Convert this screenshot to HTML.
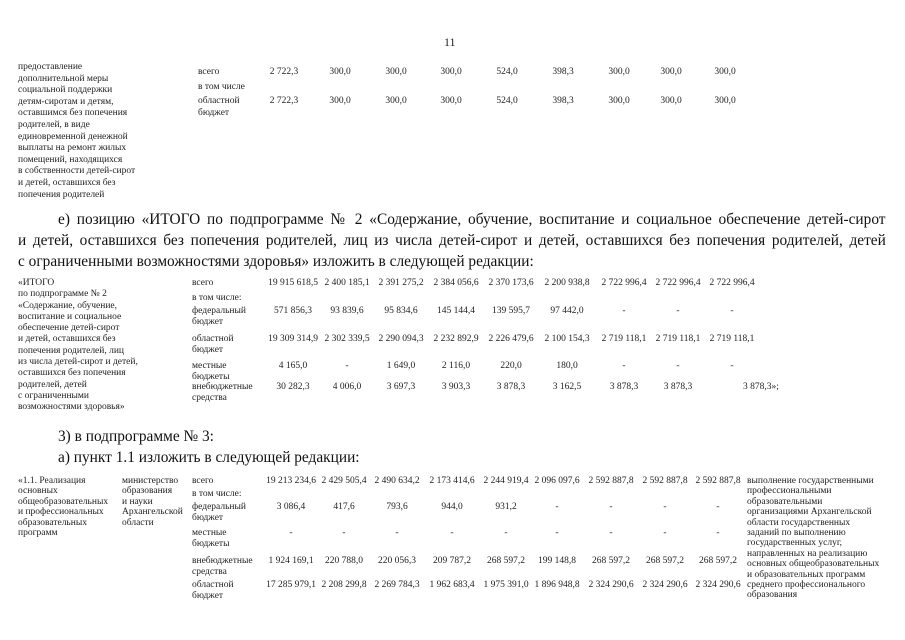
<!DOCTYPE html>
<html><head><meta charset="utf-8"><style>
body{margin:0;background:#fff;}
#p{position:relative;width:905px;height:640px;overflow:hidden;font-family:"Liberation Serif","DejaVu Serif",serif;color:#222;}
.s{position:absolute;font-size:9.5px;line-height:11.5px;white-space:nowrap;}
.c{position:absolute;font-size:9.5px;line-height:11.5px;white-space:nowrap;transform:translateX(-50%);}
.b{position:absolute;font-size:16px;line-height:20px;white-space:nowrap;transform-origin:0 0;transform:scaleX(0.96);color:#111;}
.j{text-align:justify;text-align-last:justify;white-space:normal;}
</style></head><body><div id="p">
<div class="s" style="left:444px;top:37px;font-size:12px">11</div>

<div class="s" style="left:18px;top:62px;line-height:11.6px">предоставление<br>дополнительной меры<br>социальной поддержки<br>детям-сиротам и детям,<br>оставшимся без попечения<br>родителей, в виде<br>единовременной денежной<br>выплаты на ремонт жилых<br>помещений, находящихся<br>в собственности детей-сирот<br>и детей, оставшихся без<br>попечения родителей</div>
<div class="s" style="left:198px;top:67px">всего</div>
<div class="s" style="left:198px;top:82px">в том числе</div>
<div class="s" style="left:198px;top:96px">областной<br>бюджет</div>
<div class="c" style="left:284px;top:67px">2 722,3</div><div class="c" style="left:340px;top:67px">300,0</div><div class="c" style="left:396px;top:67px">300,0</div><div class="c" style="left:451px;top:67px">300,0</div><div class="c" style="left:507px;top:67px">524,0</div><div class="c" style="left:563px;top:67px">398,3</div><div class="c" style="left:619px;top:67px">300,0</div><div class="c" style="left:671px;top:67px">300,0</div><div class="c" style="left:725px;top:67px">300,0</div>
<div class="c" style="left:284px;top:96px">2 722,3</div><div class="c" style="left:340px;top:96px">300,0</div><div class="c" style="left:396px;top:96px">300,0</div><div class="c" style="left:451px;top:96px">300,0</div><div class="c" style="left:507px;top:96px">524,0</div><div class="c" style="left:563px;top:96px">398,3</div><div class="c" style="left:619px;top:96px">300,0</div><div class="c" style="left:671px;top:96px">300,0</div><div class="c" style="left:725px;top:96px">300,0</div>

<div class="b j" style="left:58px;top:210px;width:862px">е) позицию «ИТОГО по подпрограмме № 2 «Содержание, обучение, воспитание и социальное обеспечение детей-сирот</div>
<div class="b j" style="left:18px;top:231px;width:904px">и детей, оставшихся без попечения родителей, лиц из числа детей-сирот и детей, оставшихся без попечения родителей, детей</div>
<div class="b" style="left:18px;top:252px">с ограниченными возможностями здоровья» изложить в следующей редакции:</div>

<div class="s" style="left:18px;top:278px;line-height:11.3px">«ИТОГО<br>по подпрограмме № 2<br>«Содержание, обучение,<br>воспитание и социальное<br>обеспечение детей-сирот<br>и детей, оставшихся без<br>попечения родителей, лиц<br>из числа детей-сирот и детей,<br>оставшихся без попечения<br>родителей, детей<br>с ограниченными<br>возможностями здоровья»</div>
<div class="s" style="left:192px;top:278px">всего</div>
<div class="s" style="left:192px;top:293px">в том числе:</div>
<div class="s" style="left:192px;top:306px;line-height:10.5px">федеральный<br>бюджет</div>
<div class="s" style="left:192px;top:334px;line-height:10.5px">областной<br>бюджет</div>
<div class="s" style="left:192px;top:361px;line-height:10.5px">местные<br>бюджеты</div>
<div class="s" style="left:192px;top:382px;line-height:10.5px">внебюджетные<br>средства</div>

<div class="c" style="left:293px;top:278px">19 915 618,5</div><div class="c" style="left:347px;top:278px">2 400 185,1</div><div class="c" style="left:401px;top:278px">2 391 275,2</div><div class="c" style="left:456px;top:278px">2 384 056,6</div><div class="c" style="left:511px;top:278px">2 370 173,6</div><div class="c" style="left:567px;top:278px">2 200 938,8</div><div class="c" style="left:624px;top:278px">2 722 996,4</div><div class="c" style="left:678px;top:278px">2 722 996,4</div><div class="c" style="left:732px;top:278px">2 722 996,4</div>
<div class="c" style="left:293px;top:306px">571 856,3</div><div class="c" style="left:347px;top:306px">93 839,6</div><div class="c" style="left:401px;top:306px">95 834,6</div><div class="c" style="left:456px;top:306px">145 144,4</div><div class="c" style="left:511px;top:306px">139 595,7</div><div class="c" style="left:567px;top:306px">97 442,0</div><div class="c" style="left:624px;top:306px">-</div><div class="c" style="left:678px;top:306px">-</div><div class="c" style="left:732px;top:306px">-</div>
<div class="c" style="left:293px;top:334px">19 309 314,9</div><div class="c" style="left:347px;top:334px">2 302 339,5</div><div class="c" style="left:401px;top:334px">2 290 094,3</div><div class="c" style="left:456px;top:334px">2 232 892,9</div><div class="c" style="left:511px;top:334px">2 226 479,6</div><div class="c" style="left:567px;top:334px">2 100 154,3</div><div class="c" style="left:624px;top:334px">2 719 118,1</div><div class="c" style="left:678px;top:334px">2 719 118,1</div><div class="c" style="left:732px;top:334px">2 719 118,1</div>
<div class="c" style="left:293px;top:361px">4 165,0</div><div class="c" style="left:347px;top:361px">-</div><div class="c" style="left:401px;top:361px">1 649,0</div><div class="c" style="left:456px;top:361px">2 116,0</div><div class="c" style="left:511px;top:361px">220,0</div><div class="c" style="left:567px;top:361px">180,0</div><div class="c" style="left:624px;top:361px">-</div><div class="c" style="left:678px;top:361px">-</div><div class="c" style="left:732px;top:361px">-</div>
<div class="c" style="left:293px;top:382px">30 282,3</div><div class="c" style="left:347px;top:382px">4 006,0</div><div class="c" style="left:401px;top:382px">3 697,3</div><div class="c" style="left:456px;top:382px">3 903,3</div><div class="c" style="left:511px;top:382px">3 878,3</div><div class="c" style="left:567px;top:382px">3 162,5</div><div class="c" style="left:624px;top:382px">3 878,3</div><div class="c" style="left:678px;top:382px">3 878,3</div><div class="s" style="left:743px;top:382px">3 878,3»;</div>

<div class="b" style="left:58px;top:427px">3) в подпрограмме № 3:</div>
<div class="b" style="left:58px;top:448px">а) пункт 1.1 изложить в следующей редакции:</div>

<div class="s" style="left:18px;top:476px;line-height:10.4px">«1.1. Реализация<br>основных<br>общеобразовательных<br>и профессиональных<br>образовательных<br>программ</div>
<div class="s" style="left:122px;top:476px;line-height:10.4px">министерство<br>образования<br>и науки<br>Архангельской<br>области</div>
<div class="s" style="left:192px;top:476px">всего</div>
<div class="s" style="left:192px;top:489px">в том числе:</div>
<div class="s" style="left:192px;top:502px;line-height:10.5px">федеральный<br>бюджет</div>
<div class="s" style="left:192px;top:528px;line-height:10.5px">местные<br>бюджеты</div>
<div class="s" style="left:192px;top:556px;line-height:10.5px">внебюджетные<br>средства</div>
<div class="s" style="left:192px;top:580px;line-height:10.5px">областной<br>бюджет</div>

<div class="c" style="left:291px;top:476px">19 213 234,6</div><div class="c" style="left:344px;top:476px">2 429 505,4</div><div class="c" style="left:397px;top:476px">2 490 634,2</div><div class="c" style="left:452px;top:476px">2 173 414,6</div><div class="c" style="left:506px;top:476px">2 244 919,4</div><div class="c" style="left:557px;top:476px">2 096 097,6</div><div class="c" style="left:611px;top:476px">2 592 887,8</div><div class="c" style="left:665px;top:476px">2 592 887,8</div><div class="c" style="left:718px;top:476px">2 592 887,8</div>
<div class="c" style="left:291px;top:502px">3 086,4</div><div class="c" style="left:344px;top:502px">417,6</div><div class="c" style="left:397px;top:502px">793,6</div><div class="c" style="left:452px;top:502px">944,0</div><div class="c" style="left:506px;top:502px">931,2</div><div class="c" style="left:557px;top:502px">-</div><div class="c" style="left:611px;top:502px">-</div><div class="c" style="left:665px;top:502px">-</div><div class="c" style="left:718px;top:502px">-</div>
<div class="c" style="left:291px;top:528px">-</div><div class="c" style="left:344px;top:528px">-</div><div class="c" style="left:397px;top:528px">-</div><div class="c" style="left:452px;top:528px">-</div><div class="c" style="left:506px;top:528px">-</div><div class="c" style="left:557px;top:528px">-</div><div class="c" style="left:611px;top:528px">-</div><div class="c" style="left:665px;top:528px">-</div><div class="c" style="left:718px;top:528px">-</div>
<div class="c" style="left:291px;top:556px">1 924 169,1</div><div class="c" style="left:344px;top:556px">220 788,0</div><div class="c" style="left:397px;top:556px">220 056,3</div><div class="c" style="left:452px;top:556px">209 787,2</div><div class="c" style="left:506px;top:556px">268 597,2</div><div class="c" style="left:557px;top:556px">199 148,8</div><div class="c" style="left:611px;top:556px">268 597,2</div><div class="c" style="left:665px;top:556px">268 597,2</div><div class="c" style="left:718px;top:556px">268 597,2</div>
<div class="c" style="left:291px;top:580px">17 285 979,1</div><div class="c" style="left:344px;top:580px">2 208 299,8</div><div class="c" style="left:397px;top:580px">2 269 784,3</div><div class="c" style="left:452px;top:580px">1 962 683,4</div><div class="c" style="left:506px;top:580px">1 975 391,0</div><div class="c" style="left:557px;top:580px">1 896 948,8</div><div class="c" style="left:611px;top:580px">2 324 290,6</div><div class="c" style="left:665px;top:580px">2 324 290,6</div><div class="c" style="left:718px;top:580px">2 324 290,6</div>

<div class="s" style="left:747px;top:476px;line-height:10.4px">выполнение государственными<br>профессиональными<br>образовательными<br>организациями Архангельской<br>области государственных<br>заданий по выполнению<br>государственных услуг,<br>направленных на реализацию<br>основных общеобразовательных<br>и образовательных программ<br>среднего профессионального<br>образования</div>
</div></body></html>
